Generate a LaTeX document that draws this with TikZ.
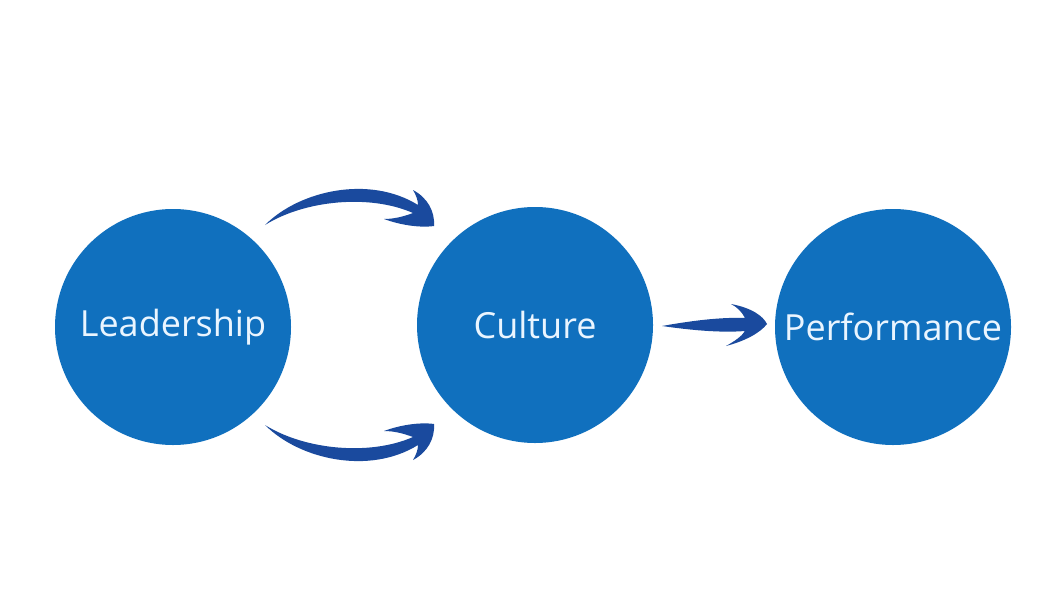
\documentclass[tikz,border=0pt]{standalone}
\usepackage{fontspec}
\setmainfont{Open Sans}
\definecolor{circ}{HTML}{1070BE}
\definecolor{arr}{HTML}{1A4A9E}
\definecolor{txt}{HTML}{EAF5FF}
\begin{document}
\begin{tikzpicture}[x=1pt,y=-1pt,
  bubble/.style={circle,fill=circ,minimum size=236pt,inner sep=0pt,text=txt,font=\fontsize{36}{40}\selectfont},
  brush/.style={fill=arr,draw=none}]
\useasboundingbox[fill=white] (0,0) rectangle (1056,594);
\node[bubble] (lead) at (173,327) {Leadership};
\node[bubble] (cult) at (535,325) {Culture};
\node[bubble] (perf) at (893,327) {Performance};
% top arrow
\fill[brush] (265,225) .. controls (300,190) and (370,175) .. (418,205)
  .. controls (418,200) and (416,195) .. (413,190)
  .. controls (428,198) and (435,212) .. (434,226)
  .. controls (420,228) and (400,225) .. (384,219)
  .. controls (395,219) and (405,216) .. (413,213)
  .. controls (370,194) and (305,200) .. (265,225) -- cycle;
% bottom arrow (mirror about y=325)
\begin{scope}[yshift=-650pt,yscale=-1]
\fill[brush] (265,225) .. controls (300,190) and (370,175) .. (418,205)
  .. controls (418,200) and (416,195) .. (413,190)
  .. controls (428,198) and (435,212) .. (434,226)
  .. controls (420,228) and (400,225) .. (384,219)
  .. controls (395,219) and (405,216) .. (413,213)
  .. controls (370,194) and (305,200) .. (265,225) -- cycle;
\end{scope}
% middle arrow
\fill[brush] (662,326) .. controls (690,321) and (720,317) .. (745,318)
  .. controls (742,312) and (737,307) .. (731,304)
  .. controls (752,308) and (763,316) .. (767,324)
  .. controls (760,333) and (745,341) .. (726,346)
  .. controls (735,341) and (742,336) .. (745,331)
  .. controls (720,333) and (690,330) .. (662,326) -- cycle;
\end{tikzpicture}
\end{document}
